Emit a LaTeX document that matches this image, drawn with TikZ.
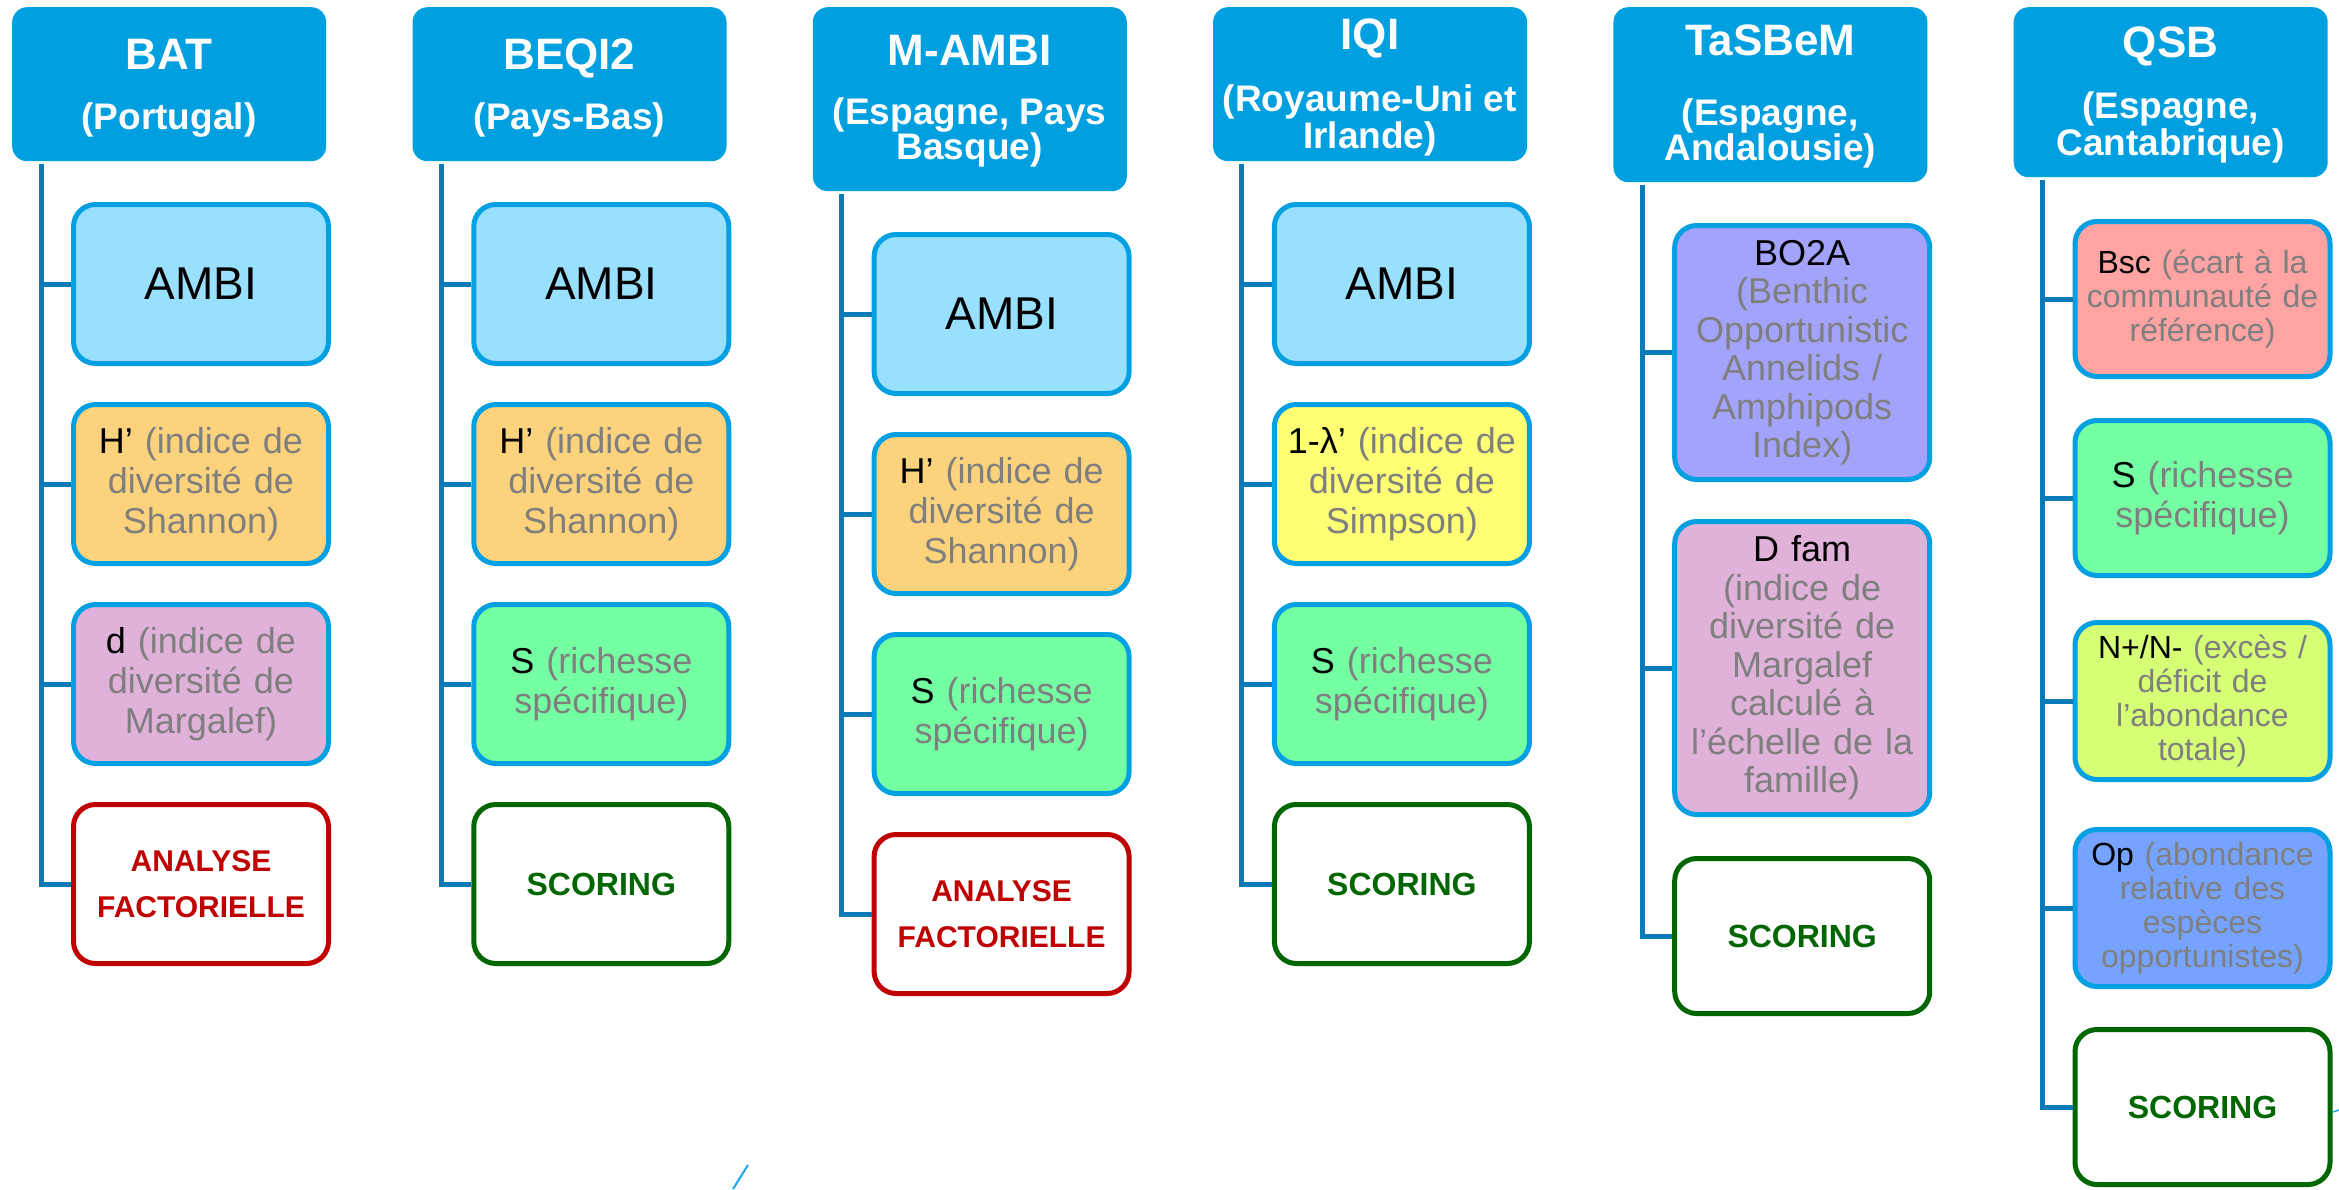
\documentclass[tikz,border=0pt]{standalone}
\usepackage{fontspec}
\setmainfont{Liberation Sans}
\definecolor{hdrblue}{RGB}{0,159,224}
\definecolor{boxblue}{RGB}{0,160,226}
\definecolor{connblue}{RGB}{12,122,182}
\definecolor{txtgray}{RGB}{127,127,127}
\definecolor{fambi}{RGB}{153,224,255}
\definecolor{fshannon}{RGB}{252,211,124}
\definecolor{fmargalef}{RGB}{224,178,218}
\definecolor{frich}{RGB}{117,255,163}
\definecolor{fsimpson}{RGB}{255,255,117}
\definecolor{fbo2a}{RGB}{163,163,252}
\definecolor{fbsc}{RGB}{255,163,163}
\definecolor{fabond}{RGB}{214,255,117}
\definecolor{fopp}{RGB}{117,163,255}
\definecolor{afred}{RGB}{192,0,0}
\definecolor{scgreen}{RGB}{0,102,0}
\definecolor{strayblue}{RGB}{27,166,232}
\begin{document}
\begin{tikzpicture}[x=1pt,y=-1pt,
  hdr/.style={fill=hdrblue, rounded corners=15pt, minimum width=314pt, inner sep=0pt, anchor=north west},
  htitle/.style={text=white, font=\bfseries\fontsize{44}{50}\selectfont, anchor=base, inner sep=0pt},
  hsub/.style={text=white, font=\bfseries\fontsize{37}{40}\selectfont, anchor=base, inner sep=0pt},
  ibox/.style={draw=boxblue, line width=5pt, rounded corners=22pt, minimum width=255pt,
    minimum height=159pt, inner sep=0pt, text width=250pt, align=center},
  ambi/.style={ibox, fill=fambi, text=black, font=\fontsize{46}{52}\selectfont},
  desc/.style={ibox, text=txtgray, font=\fontsize{36}{40}\selectfont},
  descsmall/.style={ibox, text=txtgray, font=\fontsize{32}{34}\selectfont},
  desctall/.style={ibox, text=txtgray, font=\fontsize{36}{38.5}\selectfont},
  afbox/.style={ibox, draw=afred, fill=white, text=afred, font=\bfseries\fontsize{30}{46}\selectfont},
  scbox/.style={ibox, draw=scgreen, fill=white, text=scgreen, font=\bfseries\fontsize{32}{38}\selectfont},
  conn/.style={draw=connblue, line width=5pt}
]
\useasboundingbox (0,0) rectangle (2339,1189);

% ---------- headers ----------
\node[hdr, minimum height=154pt] (h1) at (12,7) {};
\node[hdr, minimum height=154pt] (h2) at (412.3,7) {};
\node[hdr, minimum height=184pt] (h3) at (812.6,7) {};
\node[hdr, minimum height=154pt] (h4) at (1212.9,7) {};
\node[hdr, minimum height=175pt] (h5) at (1613.2,7) {};
\node[hdr, minimum height=170pt] (h6) at (2013.5,7) {};

\node[htitle] (h1t) at (169,69.5) {BAT};
\node[hsub] (h1s) at (169,129) {(Portugal)};
\node[htitle] (h2t) at (569.3,69.5) {BEQI2};
\node[hsub] (h2s) at (569.3,129) {(Pays-Bas)};
\node[htitle] (h3t) at (969.6,65) {M-AMBI};
\node[hsub] (h3s1) at (969.6,124) {(Espagne, Pays};
\node[hsub] (h3s2) at (969.6,159) {Basque)};
\node[htitle] (h4t) at (1369.9,49) {IQI};
\node[hsub] (h4s1) at (1369.9,111) {(Royaume-Uni et};
\node[hsub] (h4s2) at (1369.9,148) {Irlande)};
\node[htitle] (h5t) at (1770.2,55.8) {TaSBeM};
\node[hsub] (h5s1) at (1770.2,125) {(Espagne,};
\node[hsub] (h5s2) at (1770.2,160) {Andalousie)};
\node[htitle] (h6t) at (2170.5,57.8) {QSB};
\node[hsub] (h6s1) at (2170.5,118) {(Espagne,};
\node[hsub] (h6s2) at (2170.5,155) {Cantabrique)};

% ---------- BAT ----------
\node[ambi] (b11) at (201,284) {AMBI};
\node[desc, fill=fshannon] (b12) at (201,484) {\textcolor{black}{H’} (indice de\\diversité de\\Shannon)};
\node[desc, fill=fmargalef] (b13) at (201,684) {\textcolor{black}{d} (indice de\\diversité de\\Margalef)};
\node[afbox] (b14) at (201,884) {ANALYSE\\FACTORIELLE};

% ---------- BEQI2 ----------
\node[ambi] (b21) at (601.3,284) {AMBI};
\node[desc, fill=fshannon] (b22) at (601.3,484) {\textcolor{black}{H’} (indice de\\diversité de\\Shannon)};
\node[desc, fill=frich] (b23) at (601.3,684) {\textcolor{black}{S} (richesse\\spécifique)};
\node[scbox] (b24) at (601.3,884) {SCORING};

% ---------- M-AMBI ----------
\node[ambi] (b31) at (1001.6,314) {AMBI};
\node[desc, fill=fshannon] (b32) at (1001.6,514) {\textcolor{black}{H’} (indice de\\diversité de\\Shannon)};
\node[desc, fill=frich] (b33) at (1001.6,714) {\textcolor{black}{S} (richesse\\spécifique)};
\node[afbox] (b34) at (1001.6,914) {ANALYSE\\FACTORIELLE};

% ---------- IQI ----------
\node[ambi] (b41) at (1401.9,284) {AMBI};
\node[desc, fill=fsimpson] (b42) at (1401.9,484) {\textcolor{black}{1-λ’} (indice de\\diversité de\\Simpson)};
\node[desc, fill=frich] (b43) at (1401.9,684) {\textcolor{black}{S} (richesse\\spécifique)};
\node[scbox] (b44) at (1401.9,884) {SCORING};

% ---------- TaSBeM ----------
\node[desctall, fill=fbo2a, minimum height=254pt] (b51) at (1802.2,352.5)
  {\textcolor{black}{BO2A}\\(Benthic\\Opportunistic\\Annelids /\\Amphipods\\Index)};
\node[desctall, fill=fmargalef, minimum height=293pt] (b52) at (1802.2,668)
  {\textcolor{black}{D fam}\\(indice de\\diversité de\\Margalef\\calculé à\\l’échelle de la\\famille)};
\node[scbox, minimum height=155pt] (b53) at (1802.2,936) {SCORING};

% ---------- QSB ----------
\node[descsmall, fill=fbsc, minimum height=155pt] (b61) at (2202.5,299)
  {\textcolor{black}{Bsc} (écart à la\\communauté de\\référence)};
\node[desc, fill=frich, minimum height=155pt] (b62) at (2202.5,498)
  {\textcolor{black}{S} (richesse\\spécifique)};
\node[descsmall, fill=fabond, minimum height=157pt] (b63) at (2202.5,701)
  {\textcolor{black}{N+/N-} (excès /\\déficit de\\l’abondance\\totale)};
\node[descsmall, fill=fopp, minimum height=157pt] (b64) at (2202.5,908)
  {\textcolor{black}{Op} (abondance\\relative des\\espèces\\opportunistes)};
\node[scbox, minimum height=155pt] (b65) at (2202.5,1107) {SCORING};

% ---------- connectors ----------
\foreach \c/\last/\others in {1/4/{1,2,3}, 2/4/{1,2,3}, 3/4/{1,2,3}, 4/4/{1,2,3}, 5/3/{1,2}, 6/5/{1,2,3,4}} {
  \coordinate (v\c) at ([xshift=29pt,yshift=-3pt]h\c.south west);
  \draw[conn] (v\c) |- (b\c\last.west);
  \foreach \k in \others {
    \draw[conn] (v\c |- b\c\k.west) -- (b\c\k.west);
  }
}

% stray pen marks
\draw[strayblue, line width=2pt] (733,1189) -- (748,1165);
\draw[strayblue, line width=1.5pt] (2333,1112) -- (2339,1110);
\end{tikzpicture}
\end{document}
